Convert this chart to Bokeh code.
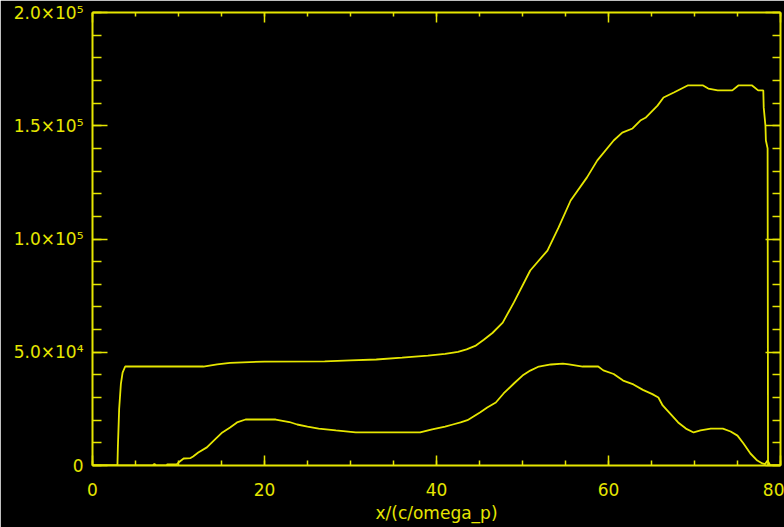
from bokeh.plotting import figure
from bokeh.models import LinearAxis, SingleIntervalTicker, Range1d, CustomJSTickFormatter
from bokeh.embed import file_html
from bokeh.resources import INLINE

# ---- data ----
x_upper = [0, 2.9, 2.95, 3.1, 3.3, 3.5, 3.8, 12.9, 14.5, 16, 20, 27, 30, 33, 36, 39, 41,
           42.5, 43.5, 44.5, 45.5, 46.5, 47.7, 49, 50.9, 52.9, 54.2, 55.6, 57.5, 58.7,
           60.6, 61.6, 62.8, 63.7, 64.3, 65.7, 66.4, 67.6, 69.2, 71.0, 71.6, 72.7, 74.4,
           75.1, 76.7, 77.4, 78.0, 78.05, 78.25, 78.3, 78.5, 78.55, 80]
y_upper = [0, 0, 8000, 25000, 36000, 41000, 43700, 43700, 44600, 45300, 45900, 46000,
           46400, 46800, 47600, 48500, 49300, 50200, 51300, 52800, 55500, 58500, 63100,
           72000, 86100, 94900, 105100, 117000, 127200, 134700, 143500, 147000, 148800,
           152300, 153500, 158900, 162500, 164700, 167800, 167800, 166400, 165600, 165600,
           167800, 167800, 165600, 165600, 158000, 150000, 143500, 140000, 0, 0]

x_lower = [0, 7.0, 7.2, 7.4, 8.6, 8.7, 9.8, 10, 10.6, 11.4, 11.7, 12.3, 13.3, 14.1, 15.1,
           16.0, 16.8, 17.8, 21.3, 22.9, 23.8, 25, 26.3, 28.3, 30.6, 38.1, 39.5, 41, 41.9,
           42.8, 43.6, 44.3, 45.1, 45.9, 46.9, 47.8, 49, 50, 50.9, 51.9, 53.3, 54.7, 55.4,
           57, 58.8, 59.4, 60.6, 61.7, 62.9, 64, 65.1, 65.8, 66.3, 68.1, 69, 69.9, 70.7,
           71.9, 73.3, 74.2, 75, 75.7, 76.5, 77.3, 77.9, 78.2, 78.5, 78.8, 80]
y_lower = [0, 0, 700, 0, 0, 500, 500, 1300, 3100, 3300, 4000, 5700, 8000, 11000, 14600,
           16800, 19000, 20300, 20300, 19200, 18100, 17200, 16300, 15500, 14600, 14600,
           16000, 17200, 18100, 19000, 20000, 21600, 23500, 25600, 27800, 31800, 36200,
           39700, 41900, 43700, 44600, 45000, 44600, 43700, 43700, 42000, 40400, 37500,
           35800, 33400, 31500, 30000, 26500, 19000, 16300, 14600, 15500, 16300, 16300,
           15000, 13200, 9700, 5300, 2200, 900, 600, 2200, 0, 0]

y_tick_values = [0, 50000, 100000, 150000, 200000]
y_tick_labels = ["0", "5.0×10⁴", "1.0×10⁵", "1.5×10⁵", "2.0×10⁵"]
x_title = "x/(c/omega_p)"

YEL = "#e6e600"
FONT = "DejaVu Sans"
FS = "17px"

p = figure(width=784, height=527, output_backend="svg", toolbar_location=None,
           x_range=Range1d(0, 80), y_range=Range1d(0, 200000),
           min_border_left=92, min_border_right=4, min_border_top=12, min_border_bottom=62)
p.background_fill_color = "black"
p.border_fill_color = "black"
p.outline_line_color = None
p.xgrid.visible = False
p.ygrid.visible = False

p.line(x_upper, y_upper, line_color=YEL, line_width=1.8)
p.line(x_lower, y_lower, line_color=YEL, line_width=1.8)


def style(ax, major_in, minor_in, labels=True):
    ax.axis_line_color = YEL
    ax.axis_line_width = 2
    ax.major_tick_line_color = YEL
    ax.minor_tick_line_color = YEL
    ax.major_tick_line_width = 1.5
    ax.minor_tick_line_width = 1.5
    ax.major_tick_in = major_in
    ax.major_tick_out = 0
    ax.minor_tick_in = minor_in
    ax.minor_tick_out = 0
    if labels:
        ax.major_label_text_color = YEL
        ax.major_label_text_font = FONT
        ax.major_label_text_font_size = FS
    else:
        ax.formatter = CustomJSTickFormatter(code="return ''")
        ax.major_label_standoff = 0


bx = p.xaxis[0]
bx.ticker = SingleIntervalTicker(interval=20, num_minor_ticks=4)
style(bx, 10, 5)
bx.major_label_standoff = 17
bx.axis_label = x_title
bx.axis_label_text_color = YEL
bx.axis_label_text_font = FONT
bx.axis_label_text_font_size = FS
bx.axis_label_text_font_style = "normal"
bx.axis_label_standoff = 4

ly = p.yaxis[0]
ly.ticker = SingleIntervalTicker(interval=50000, num_minor_ticks=5)
style(ly, 15, 9)
ly.major_label_standoff = 9
ly.major_label_overrides = {v: t for v, t in zip(y_tick_values, y_tick_labels)}

ax_top = LinearAxis(ticker=SingleIntervalTicker(interval=20, num_minor_ticks=4))
style(ax_top, 10, 4, labels=False)
p.add_layout(ax_top, "above")

ax_right = LinearAxis(ticker=SingleIntervalTicker(interval=50000, num_minor_ticks=5))
style(ax_right, 15, 8, labels=False)
p.add_layout(ax_right, "right")

open("out.html", "w").write(file_html(p, INLINE))
